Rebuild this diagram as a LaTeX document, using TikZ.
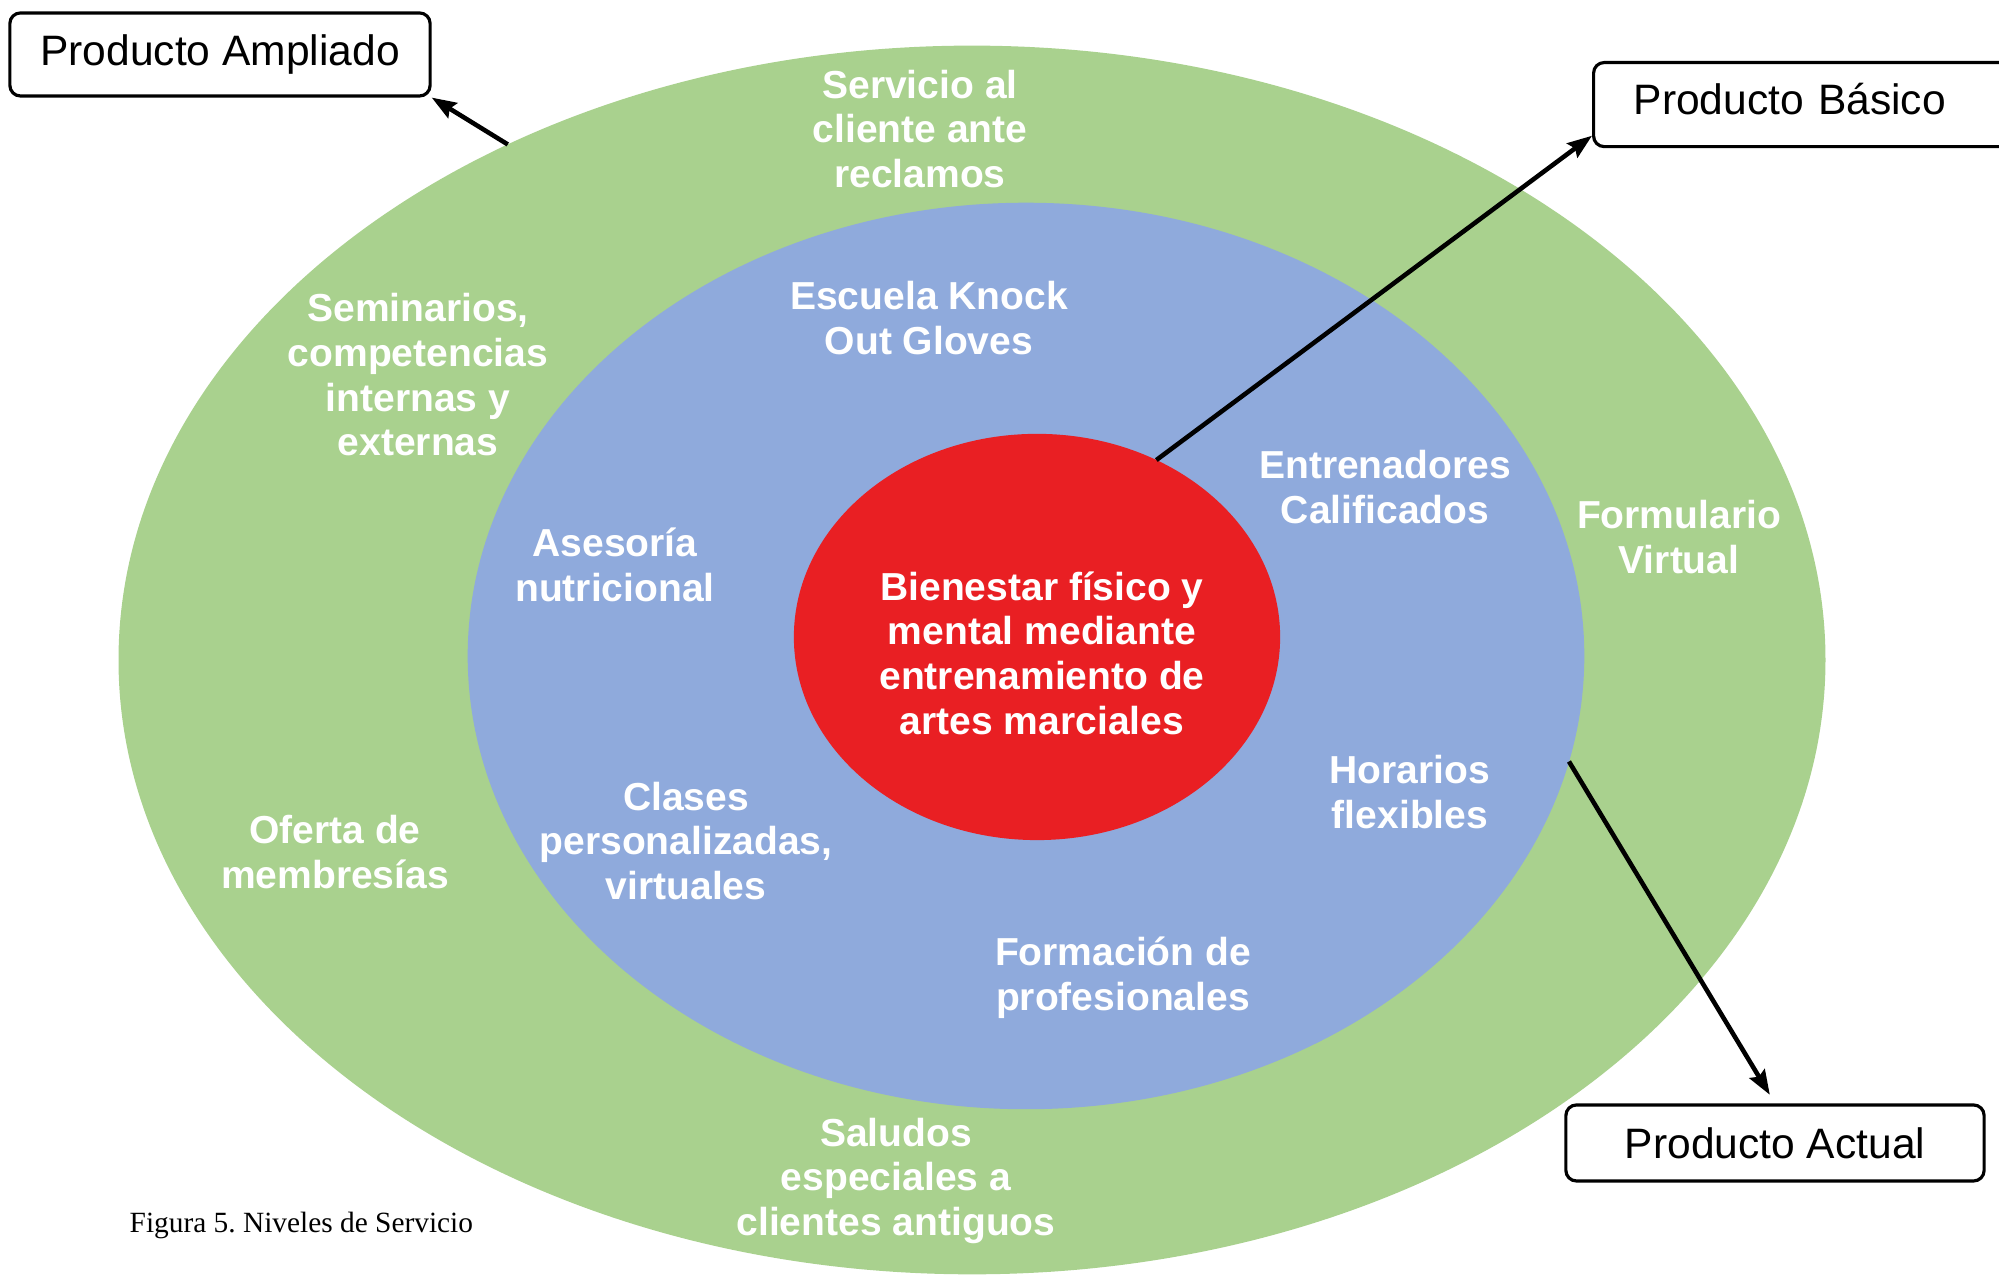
\documentclass[tikz,border=0pt]{standalone}
\usepackage{fontspec}
\setmainfont{Liberation Sans}
\newfontfamily\piefont{Liberation Serif}
\usepackage{xcolor}
\usetikzlibrary{shapes.geometric,arrows.meta}
\definecolor{verde}{RGB}{169,209,142}
\definecolor{azul}{RGB}{143,170,220}
\definecolor{rojo}{RGB}{233,31,35}

\begin{document}
\begin{tikzpicture}[x=0.01cm,y=0.01cm,
  nivel/.style={ellipse,inner sep=0pt,outer sep=0pt},
  caja/.style={rectangle,draw,line width=0.9pt,rounded corners=3pt,fill=white,inner sep=0pt,font=\fontsize{12.1}{14}\selectfont},
  etq/.style={align=center,text=white,inner sep=0pt,font=\bfseries\fontsize{11.1}{12.7}\selectfont},
  flecha/.style={-{Stealth[length=7pt,width=5pt,inset=1pt]},line width=1.3pt}]
\useasboundingbox (0,0) rectangle (1999,1280);
% tres niveles
\node[nivel,fill=verde,minimum width=17.06cm,minimum height=12.28cm] (nivelAmp) at (972,620) {};
\node[nivel,fill=azul,minimum width=11.16cm,minimum height=9.06cm] (nivelAct) at (1026,624) {};
\node[nivel,fill=rojo,minimum width=4.86cm,minimum height=4.06cm] (nivelBas) at (1037,643) {};
\node[etq] (bienestar) at (1042,627) {Bienestar físico y\\mental mediante\\entrenamiento de\\artes marciales};
% producto actual
\node[etq] (escuela) at (929,962) {Escuela Knock\\Out Gloves};
\node[etq] (entrenadores) at (1385,793) {Entrenadores\\Calificados};
\node[etq] (asesoria) at (615,715) {Asesoría\\nutricional};
\node[etq] (horarios) at (1410,488) {Horarios\\flexibles};
\node[etq] (clases) at (686,439) {Clases\\personalizadas,\\virtuales};
\node[etq] (formacion) at (1123,302) {Formación de\\profesionales};
% producto ampliado
\node[etq] (servicio) at (920,1151) {Servicio al\\cliente ante\\reclamos};
\node[etq] (seminarios) at (418,905) {Seminarios,\\competencias\\internas y\\externas};
\node[etq] (formulario) at (1679,743) {Formulario\\Virtual};
\node[etq] (oferta) at (335,428) {Oferta de\\membresías};
\node[etq] (saludos) at (896,99) {Saludos\\especiales a\\clientes antiguos};
% cajas
\node[caja,minimum width=4.2cm,minimum height=0.83cm] (ampliado) at (220,1225.5) {Producto Ampliado};
\node[caja,anchor=north west,minimum width=4.4cm,minimum height=0.84cm,text width=3.6cm,text height=0.3cm,text depth=0.1cm,inner xsep=0.4cm,align=left] (basico) at (1592,1219) {Producto Básico};
\node[caja,minimum width=4.18cm,minimum height=0.76cm] (actual) at (1775,137) {Producto Actual};
\draw[flecha] (nivelAmp.132.5) -- (ampliado.south east);
\draw[flecha] (nivelBas.56.8) -- (basico.188.3);
\draw[flecha,shorten >=0.1cm] (nivelAct.349.5) -- (actual.north);
\node[anchor=base west,inner sep=0pt,font=\piefont\frenchspacing\fontsize{8.35}{10}\selectfont] (figura) at (129,47) {Figura 5. Niveles de Servicio};
\end{tikzpicture}
\end{document}
